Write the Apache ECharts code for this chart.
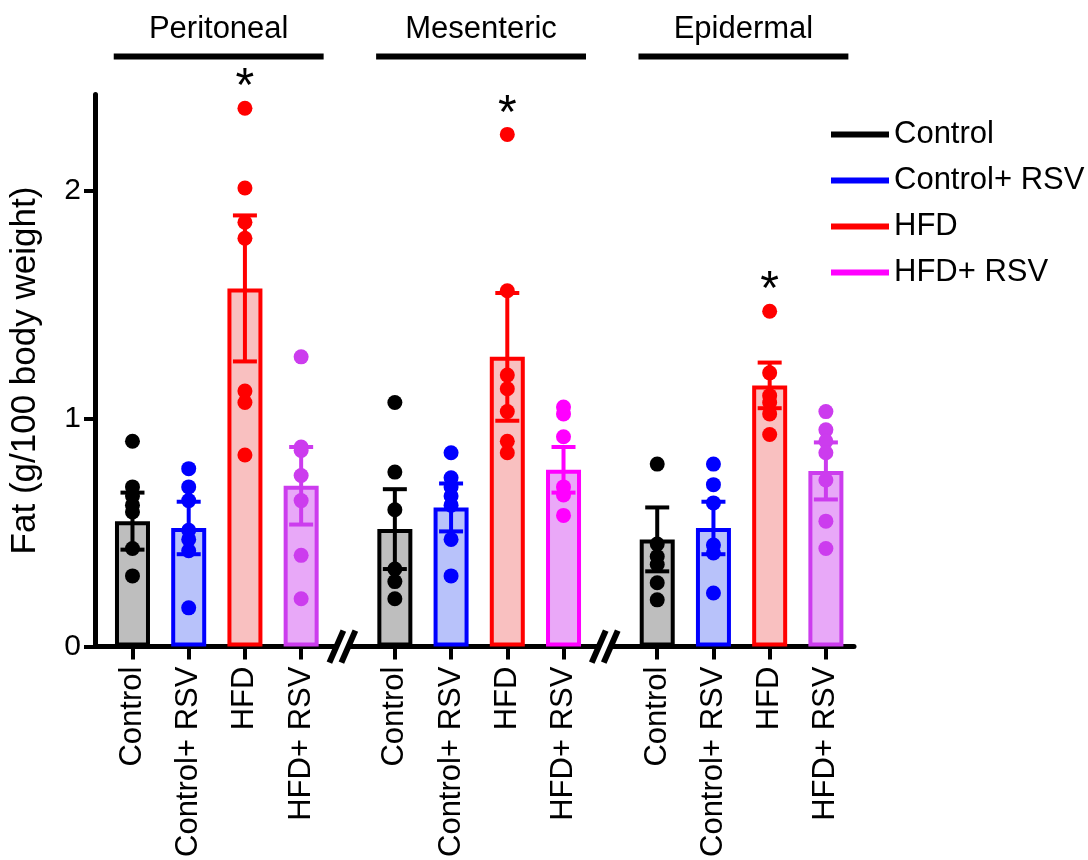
<!DOCTYPE html>
<html>
<head>
<meta charset="utf-8">
<script src="https://cdn.jsdelivr.net/npm/echarts@6/dist/echarts.min.js"></script>
<style>html,body{margin:0;padding:0;background:#fff}#chart{width:1088px;height:860px}</style>
</head>
<body>
<div id="chart"></div>
<script>
// ---------- data ----------
const groups = ['Peritoneal', 'Mesenteric', 'Epidermal'];
const treatments = ['Control', 'Control+ RSV', 'HFD', 'HFD+ RSV'];
const yTicks = [0, 1, 2];
const yName = 'Fat (g/100 body weight)';

// bar heights (mean) and SEM per group [Peritoneal, Mesenteric, Epidermal]
const controlMean    = [0.55, 0.515, 0.47];
const controlSem     = [0.125, 0.175, 0.14];
const controlRsvMean = [0.52, 0.61, 0.52];
const controlRsvSem  = [0.115, 0.105, 0.115];
const hfdMean        = [1.57, 1.27, 1.145];
const hfdSem         = [0.32, 0.28, 0.10];
const hfdRsvMean     = [0.705, 0.775, 0.77];
const hfdRsvSem      = [0.17, 0.10, 0.125];

// individual animals
const controlPoints = [
  [0.90, 0.70, 0.66, 0.62, 0.59, 0.43, 0.31],
  [1.07, 0.765, 0.60, 0.34, 0.285, 0.21],
  [0.80, 0.45, 0.395, 0.36, 0.28, 0.205]
];
const controlRsvPoints = [
  [0.78, 0.70, 0.64, 0.51, 0.47, 0.42, 0.17],
  [0.85, 0.74, 0.70, 0.66, 0.62, 0.47, 0.31],
  [0.80, 0.71, 0.63, 0.445, 0.41, 0.235]
];
const hfdPoints = [
  [2.36, 2.01, 1.86, 1.79, 1.12, 1.07, 0.84],
  [2.245, 1.56, 1.19, 1.13, 1.03, 0.90, 0.85],
  [1.47, 1.20, 1.10, 1.07, 1.02, 0.93]
];
const hfdRsvPoints = [
  [1.27, 0.875, 0.86, 0.75, 0.64, 0.40, 0.21],
  [1.05, 1.02, 0.92, 0.70, 0.665, 0.575],
  [1.03, 0.95, 0.90, 0.85, 0.73, 0.55, 0.43]
];
// significance mark (*) on HFD bar of each group
const hfdStar = [true, true, true];

// ---------- styles ----------
const FONT = 'Liberation Sans, Arial, Helvetica, sans-serif';
const borderColors = [
  ['#000000', '#000000', '#000000'],
  ['#0000ff', '#0000ff', '#0000ff'],
  ['#ff0000', '#ff0000', '#ff0000'],
  ['#cc3cee', '#ff00ff', '#cc3cee']
];
const fillColors = [
  ['#bebebe', '#bebebe', '#bebebe'],
  ['#b8c2fa', '#b8c2fa', '#b8c2fa'],
  ['#f9c0c0', '#f9c0c0', '#f9c0c0'],
  ['#e8a8f8', '#eaa8f8', '#e8a8f8']
];
const legendColors = ['#000000', '#0000ff', '#ff0000', '#ff00ff'];

const means = [controlMean, controlRsvMean, hfdMean, hfdRsvMean];
const sems = [controlSem, controlRsvSem, hfdSem, hfdRsvSem];
const points = [controlPoints, controlRsvPoints, hfdPoints, hfdRsvPoints];

// ---------- layout on a fine category axis ----------
const GROUP_START = [4, 32, 60];
const STEP = 6;
const CAT_COUNT = 82;
const catIndex = (g, t) => GROUP_START[g] + STEP * t;
const categories = Array.from({length: CAT_COUNT}, (_, i) => 'c' + i);
const labelAt = {};
groups.forEach((_, g) => treatments.forEach((name, t) => { labelAt[catIndex(g, t)] = name; }));

const series = [];
treatments.forEach((name, t) => {
  series.push({
    type: 'bar', name: name, barWidth: 35, barGap: '-100%', z: 2,
    data: groups.map((_, g) => ({
      value: [catIndex(g, t), means[t][g]],
      itemStyle: {color: fillColors[t][g], borderColor: borderColors[t][g], borderWidth: 4}
    }))
  });
});

// error bars
const errData = [];
groups.forEach((_, g) => treatments.forEach((_, t) => {
  errData.push([catIndex(g, t), means[t][g], sems[t][g], t, g]);
}));
series.push({
  type: 'custom', z: 3, clip: false, silent: true,
  data: errData,
  renderItem: (params, api) => {
    const x = api.value(0), m = api.value(1), s = api.value(2);
    const t = api.value(3), g = api.value(4);
    const hi = api.coord([x, m + s]), lo = api.coord([x, m - s]);
    const color = borderColors[t][g];
    const cap = 12;
    const st = {stroke: color, lineWidth: 4};
    return {type: 'group', children: [
      {type: 'line', shape: {x1: hi[0], y1: hi[1], x2: lo[0], y2: lo[1]}, style: st},
      {type: 'line', shape: {x1: hi[0] - cap, y1: hi[1], x2: hi[0] + cap, y2: hi[1]}, style: st},
      {type: 'line', shape: {x1: lo[0] - cap, y1: lo[1], x2: lo[0] + cap, y2: lo[1]}, style: st}
    ]};
  }
});

// points
treatments.forEach((name, t) => {
  const d = [];
  groups.forEach((_, g) => points[t][g].forEach(v => {
    d.push({value: [catIndex(g, t), v], itemStyle: {color: borderColors[t][g], opacity: 1}});
  }));
  series.push({type: 'scatter', name: name, symbol: 'circle', symbolSize: 15, z: 4,
    itemStyle: {opacity: 1}, data: d});
});

// asterisks
const starData = [];
groups.forEach((_, g) => { if (hfdStar[g]) starData.push([catIndex(g, 2), Math.max(...hfdPoints[g])]); });
series.push({
  type: 'custom', z: 5, clip: false, silent: true, data: starData,
  renderItem: (params, api) => {
    const p = api.coord([api.value(0), api.value(1)]);
    return {type: 'text', style: {text: '*', x: p[0], y: p[1] - 20, align: 'center', verticalAlign: 'middle',
      fontSize: 48, fontFamily: FONT, fill: '#000'}};
  }
});

// group headers
series.push({
  type: 'custom', z: 5, clip: false, silent: true,
  data: groups.map((_, g) => [catIndex(g, 0), catIndex(g, 3), g]),
  renderItem: (params, api) => {
    const a = api.coord([api.value(0), 0]);
    const b = api.coord([api.value(0) + 1, 0]);
    const band = b[0] - a[0];
    const e = api.coord([api.value(1), 0]);
    const top = params.coordSys.y;
    const x0 = a[0] - 2.0 * band, x1 = e[0] + 2.4 * band;
    const yLine = top - 38;
    return {type: 'group', children: [
      {type: 'rect', shape: {x: x0, y: yLine - 3, width: x1 - x0, height: 6}, style: {fill: '#000'}},
      {type: 'text', style: {text: groups[api.value(2)], x: (x0 + x1) / 2, y: yLine - 27, align: 'center',
        verticalAlign: 'middle', fontSize: 31, fontFamily: FONT, fill: '#000'}}
    ]};
  }
});

// axis break marks
series.push({
  type: 'custom', z: 6, clip: false, silent: true,
  data: [0, 1].map(g => [catIndex(g, 3), catIndex(g + 1, 0)]),
  renderItem: (params, api) => {
    const a = api.coord([api.value(0), 0]);
    const b = api.coord([api.value(1), 0]);
    const cx = a[0] + 0.44 * (b[0] - a[0]);
    const y0 = params.coordSys.y + params.coordSys.height;
    const h = 16, s = 7, gap = 12;
    const l1 = cx - gap / 2, l2 = cx + gap / 2;
    const st = {stroke: '#000', lineWidth: 6};
    return {type: 'group', children: [
      {type: 'polygon', shape: {points: [[l1 - s, y0 + h], [l1 + s, y0 - h], [l2 + s, y0 - h], [l2 - s, y0 + h]]}, style: {fill: '#fff'}},
      {type: 'line', shape: {x1: l1 - s, y1: y0 + h, x2: l1 + s, y2: y0 - h}, style: st},
      {type: 'line', shape: {x1: l2 - s, y1: y0 + h, x2: l2 + s, y2: y0 - h}, style: st}
    ]};
  }
});

const chart = echarts.init(document.getElementById('chart'), null, {renderer: 'canvas'});
chart.setOption({
  animation: false,
  backgroundColor: '#fff',
  textStyle: {fontFamily: FONT},
  grid: {left: 91, right: 234, top: 94.5, bottom: 213, containLabel: false},
  legend: {
    orient: 'vertical', left: 826, top: 114, itemWidth: 58, itemHeight: 6, itemGap: 15,
    selectedMode: false,
    textStyle: {fontSize: 31, color: '#000', fontFamily: FONT},
    data: treatments.map((n, t) => ({name: n, icon: 'rect', itemStyle: {color: legendColors[t], borderWidth: 0}}))
  },
  xAxis: {
    type: 'category', data: categories, boundaryGap: false,
    axisLine: {lineStyle: {color: '#000', width: 5}},
    axisTick: {interval: (i) => i in labelAt, length: 13, lineStyle: {color: '#000', width: 4}},
    axisLabel: {interval: (i) => i in labelAt, formatter: (v, i) => labelAt[i] || '', rotate: 90,
      fontSize: 31, color: '#000', margin: 20, fontFamily: FONT},
    splitLine: {show: false}
  },
  yAxis: {
    type: 'value', min: 0, max: 2.42, interval: 1,
    name: yName, nameLocation: 'middle', nameGap: 52,
    nameTextStyle: {fontSize: 35, color: '#000', fontFamily: FONT},
    axisLine: {show: true, lineStyle: {color: '#000', width: 5}},
    axisTick: {show: true, length: 11, lineStyle: {color: '#000', width: 4}, customValues: yTicks},
    axisLabel: {customValues: yTicks, fontSize: 30, color: '#000', margin: 14, fontFamily: FONT},
    splitLine: {show: false}
  },
  series: series
});
</script>
</body>
</html>
